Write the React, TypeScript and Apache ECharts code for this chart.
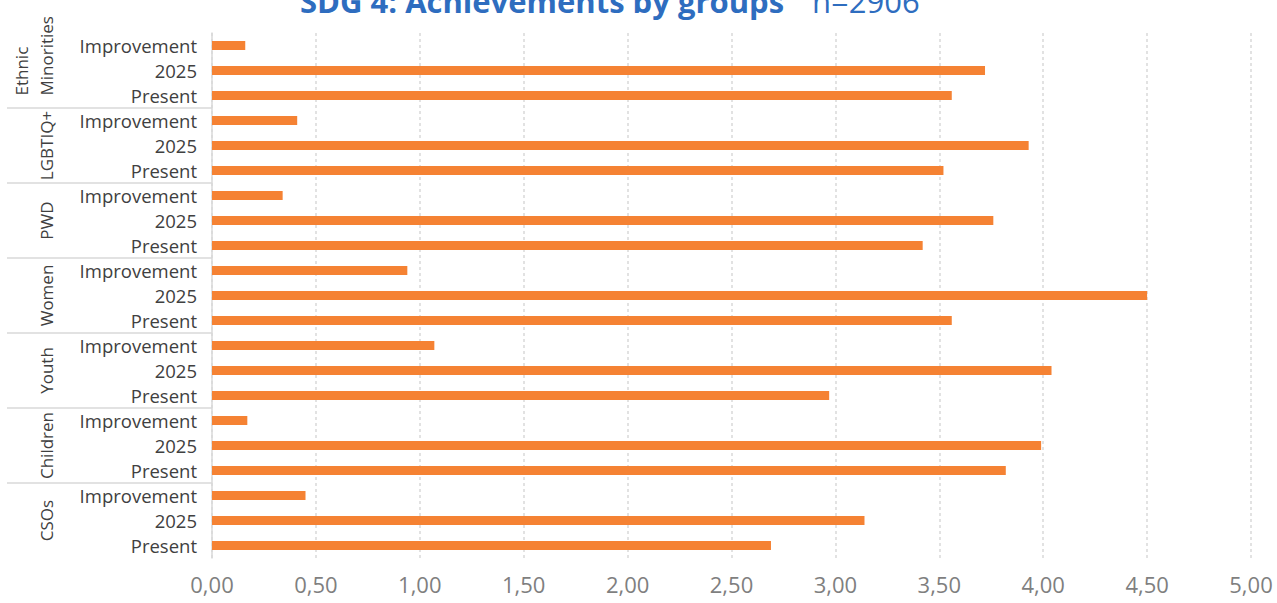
import React, { useEffect, useRef } from "react";
import * as echarts from "echarts";

const groups = ["Ethnic\nMinorities", "LGBTIQ+", "PWD", "Women", "Youth", "Children", "CSOs"];
const subLabels = ["Improvement", "2025", "Present"];
const improvement = [0.16, 0.41, 0.34, 0.94, 1.07, 0.17, 0.45];
const target2025 = [3.72, 3.93, 3.76, 4.5, 4.04, 3.99, 3.14];
const present = [3.56, 3.52, 3.42, 3.56, 2.97, 3.82, 2.69];
const xTicks = { min: 0, max: 5, interval: 0.5 };
const titleMain = "SDG 4: Achievements by groups";
const titleN = "n=2906";

const FONT = "Open Sans";
const BAR = "#F58233";
const GRID_C = "#d9d9d9";

export default function App() {
  const ref = useRef<HTMLDivElement>(null);
  useEffect(() => {
    if (!ref.current) return;
    const chart = echarts.init(ref.current, null, { renderer: "svg" });
    const keys: string[] = [];
    const vals: number[] = [];
    groups.forEach((g, gi) => {
      const row = [improvement[gi], target2025[gi], present[gi]];
      subLabels.forEach((s, si) => {
        keys.push(gi + "|" + s);
        vals.push(row[si]);
      });
    });
    chart.setOption({
      animation: false,
      title: {
        text: "{b|" + titleMain + "}{n|" + titleN + "}",
        left: 300,
        top: -15,
        padding: 0,
        textStyle: {
          rich: {
            b: { fontFamily: FONT, fontWeight: "bold", fontSize: 31, color: "#2E6DBF", lineHeight: 32 },
            n: { fontFamily: FONT, fontWeight: "normal", fontSize: 31, color: "#2E6DBF", lineHeight: 32, padding: [0, 0, 0, 28] },
          },
        },
      },
      grid: { left: 212, right: 26, top: 33, bottom: 45, containLabel: false },
      xAxis: {
        type: "value",
        min: xTicks.min,
        max: xTicks.max,
        interval: xTicks.interval,
        axisLine: { show: false },
        axisTick: { show: false },
        axisLabel: {
          formatter: (v: number) => v.toFixed(2).replace(".", ","),
          fontFamily: FONT,
          fontSize: 22,
          lineHeight: 22,
          color: "#7f7f7f",
          margin: 15,
        },
        splitLine: { show: true, lineStyle: { type: [3, 3], color: GRID_C, width: 1.5 } },
      },
      yAxis: {
        type: "category",
        data: keys,
        inverse: true,
        axisLine: { show: true, lineStyle: { color: GRID_C, width: 1.5 } },
        axisTick: { show: false },
        axisLabel: {
          formatter: (v: string) => v.split("|")[1],
          fontFamily: FONT,
          fontSize: 18.5,
          color: "#404040",
          margin: 15,
        },
        splitLine: { show: false },
      },
      series: [
        {
          type: "bar",
          data: vals,
          barWidth: 9,
          itemStyle: { color: BAR },
        },
      ],
    });

    const px = (i: number) => chart.convertToPixel({ yAxisIndex: 0 }, i) as number;
    const elements: any[] = [];
    groups.forEach((g, gi) => {
      const first = gi * 3;
      const last = gi * 3 + 2;
      const nLines = g.split("\n").length;
      const multi = nLines > 1;
      const y = multi ? px(last) : (px(first) + px(last)) / 2;
      const cx = 46.4 - (nLines - 1) * 12.5;
      elements.push({
        type: "text",
        x: cx,
        y,
        rotation: Math.PI / 2,
        style: {
          text: g,
          x: 0,
          y: 0,
          fontFamily: FONT,
          fontSize: 17,
          lineHeight: 25,
          fill: "#404040",
          align: multi ? "left" : "center",
          verticalAlign: "middle",
          textAlign: multi ? "left" : "center",
          textVerticalAlign: "middle",
        },
      });
      if (gi < groups.length - 1) {
        const by = (px(last) + px(last + 1)) / 2;
        elements.push({
          type: "line",
          shape: { x1: 7, y1: by, x2: 212, y2: by },
          style: { stroke: GRID_C, lineWidth: 1.5 },
        });
      }
    });
    chart.setOption({ graphic: { elements } });
    return () => chart.dispose();
  }, []);
  return (
    <div
      ref={ref}
      style={{ position: "fixed", left: 0, top: 0, width: 1277, height: 603, background: "#fff" }}
    />
  );
}
